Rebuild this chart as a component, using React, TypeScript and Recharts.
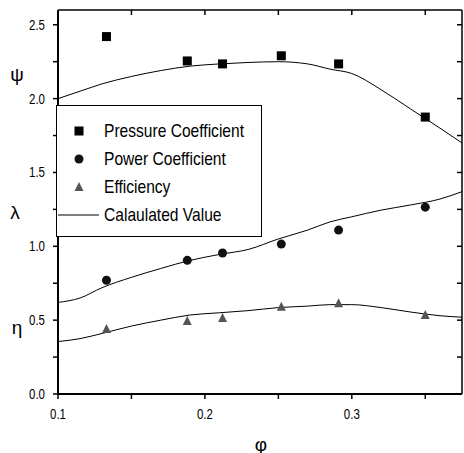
import React from 'react';
import {
  ComposedChart,
  Line,
  Scatter,
  XAxis,
  YAxis,
  Legend,
} from 'recharts';

// measured flow coefficient (phi) of each test point
const phi = [0.133, 0.188, 0.212, 0.252, 0.291, 0.35];
const pressureCoef = [2.42, 2.255, 2.235, 2.29, 2.235, 1.875];
const powerCoef = [0.77, 0.905, 0.955, 1.015, 1.11, 1.265];
const efficiency = [0.44, 0.495, 0.515, 0.59, 0.615, 0.535];

// calculated curves
const calcPhi = [0.1, 0.115, 0.13, 0.15, 0.17, 0.19, 0.21, 0.23, 0.25, 0.27, 0.285, 0.3, 0.32, 0.34, 0.36, 0.375];
const pressureCalc = [2.0, 2.05, 2.1, 2.15, 2.19, 2.22, 2.235, 2.245, 2.25, 2.235, 2.2, 2.17, 2.06, 1.93, 1.8, 1.7];
const powerCalc = [0.62, 0.65, 0.72, 0.79, 0.85, 0.905, 0.945, 0.98, 1.05, 1.11, 1.165, 1.2, 1.245, 1.28, 1.32, 1.37];
const efficiencyCalc = [0.355, 0.375, 0.41, 0.46, 0.5, 0.535, 0.55, 0.565, 0.585, 0.595, 0.605, 0.605, 0.585, 0.555, 0.53, 0.52];

const xTicks = [0.1, 0.15, 0.2, 0.25, 0.3, 0.35];
const yTicks = [0, 0.25, 0.5, 0.75, 1, 1.25, 1.5, 1.75, 2, 2.25, 2.5];

const legendLabels = ['Pressure Coefficient', 'Power Coefficient', 'Efficiency', 'Calaulated Value'];

const FONT = '"Liberation Sans", Arial, sans-serif';
const NARROW = 0.82; // squeeze Arial into an Arial Narrow look
const TICK = 5;
const GAP = 8;

const toPoints = (xs: number[], ys: number[]) => xs.map((x, i) => ({ x, y: ys[i] }));

const isMajor = (v: number) => Math.abs(v * 10 - Math.round(v * 10)) < 1e-6;
const isHalf = (v: number) => Math.abs(v * 2 - Math.round(v * 2)) < 1e-6;

const SquareDot = (props: any) => {
  const { cx, cy } = props;
  return <rect x={cx - 4.5} y={cy - 4.5} width={9} height={9} fill="#000" />;
};

const CircleDot = (props: any) => {
  const { cx, cy } = props;
  return <circle cx={cx} cy={cy} r={4.5} fill="#111" />;
};

const TriangleDot = (props: any) => {
  const { cx, cy } = props;
  return (
    <polygon
      points={`${cx},${cy - 5} ${cx - 4.5},${cy + 4} ${cx + 4.5},${cy + 4}`}
      fill="#555"
    />
  );
};

// tick mark + optional label; x/y arrive as the label anchor, so step back to the axis
const XTick = (props: any) => {
  const { x, y, payload } = props;
  const v = payload.value as number;
  const axisY = y - GAP - TICK;
  return (
    <g>
      <line x1={x} y1={axisY} x2={x} y2={axisY + TICK} stroke="#000" strokeWidth={1.5} />
      {isMajor(v) && (
        <text
          transform={`translate(${x},${y + 2}) scale(${NARROW},1)`}
          textAnchor="middle"
          dy="0.71em"
          fontFamily={FONT}
          fontSize={14}
          fill="#000"
        >
          {v.toFixed(1)}
        </text>
      )}
    </g>
  );
};

const YTick = (props: any) => {
  const { x, y, payload } = props;
  const v = payload.value as number;
  const axisX = x + GAP + TICK;
  return (
    <g>
      <line x1={axisX - TICK} y1={y} x2={axisX} y2={y} stroke="#000" strokeWidth={1.5} />
      {isHalf(v) && (
        <text
          transform={`translate(${x},${y}) scale(${NARROW},1)`}
          textAnchor="end"
          dy="0.355em"
          fontFamily={FONT}
          fontSize={14}
          fill="#000"
        >
          {v.toFixed(1)}
        </text>
      )}
    </g>
  );
};

// frame axes (mirrored, tickMargin 0): the anchor sits at the inner end of the mark
const TopTick = (props: any) => {
  const { x, y } = props;
  return <line x1={x} y1={y - TICK} x2={x} y2={y} stroke="#000" strokeWidth={1.5} />;
};

const RightTick = (props: any) => {
  const { x, y } = props;
  return <line x1={x} y1={y} x2={x + TICK} y2={y} stroke="#000" strokeWidth={1.5} />;
};

function LegendMarker({ index }: { index: number }) {
  return (
    <svg width={44} height={12} style={{ flex: 'none' }}>
      {index === 0 && <rect x={17.5} y={1.5} width={9} height={9} fill="#000" />}
      {index === 1 && <circle cx={22} cy={6} r={4.5} fill="#111" />}
      {index === 2 && <polygon points="22,1 17.5,10 26.5,10" fill="#555" />}
      {index === 3 && <line x1={1} y1={6} x2={42} y2={6} stroke="#000" strokeWidth={1} />}
    </svg>
  );
}

function renderLegend() {
  return (
    <div
      style={{
        width: 206,
        height: 132,
        boxSizing: 'border-box',
        border: '1.5px solid #000',
        background: '#fff',
        paddingTop: 11,
      }}
    >
      {legendLabels.map((label, i) => (
        <div
          key={label}
          style={{ display: 'flex', alignItems: 'center', height: 28, whiteSpace: 'nowrap' }}
        >
          <LegendMarker index={i} />
          <span
            style={{
              display: 'inline-block',
              marginLeft: 3,
              fontFamily: FONT,
              fontSize: 19,
              color: '#000',
              lineHeight: '28px',
              transform: `scaleX(${NARROW})`,
              transformOrigin: 'left center',
            }}
          >
            {label}
          </span>
        </div>
      ))}
    </div>
  );
}

const greekStyle: React.CSSProperties = {
  position: 'absolute',
  fontFamily: FONT,
  fontSize: 19,
  color: '#000',
  lineHeight: 1,
  transform: 'translate(-50%, -50%)',
};

export default function App() {
  const pressureLine = toPoints(calcPhi, pressureCalc);

  return (
    <div style={{ position: 'absolute', left: 0, top: 0, width: 464, height: 453, background: '#fff' }}>
      <ComposedChart
        width={464}
        height={453}
        margin={{ top: 10, right: 2, bottom: 0, left: 0 }}
      >
        <XAxis
          xAxisId="bottom"
          dataKey="x"
          type="number"
          domain={[0.1, 0.375]}
          allowDataOverflow
          ticks={xTicks}
          height={59}
          tickSize={TICK}
          tickMargin={GAP}
          tickLine={false}
          stroke="#000"
          axisLine={{ stroke: '#000', strokeWidth: 2 }}
          tick={XTick}
        />
        <XAxis
          xAxisId="top"
          dataKey="x"
          orientation="top"
          type="number"
          domain={[0.1, 0.375]}
          allowDataOverflow
          ticks={xTicks}
          tick={TopTick}
          height={1}
          mirror
          tickSize={TICK}
          tickMargin={0}
          tickLine={false}
          stroke="#000"
          axisLine={{ stroke: '#000', strokeWidth: 1.5 }}
        />
        <YAxis
          yAxisId="left"
          type="number"
          domain={[0, 2.6]}
          allowDataOverflow
          ticks={yTicks}
          width={58}
          tickSize={TICK}
          tickMargin={GAP}
          tickLine={false}
          stroke="#000"
          axisLine={{ stroke: '#000', strokeWidth: 2 }}
          tick={YTick}
        />
        <YAxis
          yAxisId="right"
          orientation="right"
          type="number"
          domain={[0, 2.6]}
          allowDataOverflow
          ticks={yTicks}
          tick={RightTick}
          width={1}
          mirror
          tickSize={TICK}
          tickMargin={0}
          tickLine={false}
          stroke="#000"
          axisLine={{ stroke: '#000', strokeWidth: 1.5 }}
        />

        {/* invisible series so the top and right frame axes get drawn */}
        <Line
          xAxisId="top"
          yAxisId="right"
          data={pressureLine}
          dataKey="y"
          stroke="none"
          dot={false}
          activeDot={false}
          legendType="none"
          isAnimationActive={false}
        />

        <Line
          xAxisId="bottom"
          yAxisId="left"
          data={pressureLine}
          dataKey="y"
          type="monotone"
          stroke="#000"
          strokeWidth={1}
          dot={false}
          activeDot={false}
          legendType="none"
          isAnimationActive={false}
        />
        <Line
          xAxisId="bottom"
          yAxisId="left"
          data={toPoints(calcPhi, powerCalc)}
          dataKey="y"
          type="monotone"
          stroke="#000"
          strokeWidth={1}
          dot={false}
          activeDot={false}
          legendType="none"
          isAnimationActive={false}
        />
        <Line
          xAxisId="bottom"
          yAxisId="left"
          data={toPoints(calcPhi, efficiencyCalc)}
          dataKey="y"
          type="monotone"
          stroke="#000"
          strokeWidth={1}
          dot={false}
          activeDot={false}
          legendType="none"
          isAnimationActive={false}
        />

        <Scatter
          xAxisId="bottom"
          yAxisId="left"
          name="Pressure Coefficient"
          data={toPoints(phi, pressureCoef)}
          dataKey="y"
          shape={SquareDot}
          isAnimationActive={false}
        />
        <Scatter
          xAxisId="bottom"
          yAxisId="left"
          name="Power Coefficient"
          data={toPoints(phi, powerCoef)}
          dataKey="y"
          shape={CircleDot}
          isAnimationActive={false}
        />
        <Scatter
          xAxisId="bottom"
          yAxisId="left"
          name="Efficiency"
          data={toPoints(phi, efficiency)}
          dataKey="y"
          shape={TriangleDot}
          isAnimationActive={false}
        />

        <Legend
          layout="horizontal"
          verticalAlign="middle"
          align="center"
          content={renderLegend}
          wrapperStyle={{ left: 56, top: 105, width: 206, height: 132 }}
        />
      </ComposedChart>

      <div style={{ ...greekStyle, left: 17, top: 74 }}>ψ</div>
      <div style={{ ...greekStyle, left: 15, top: 212 }}>λ</div>
      <div style={{ ...greekStyle, left: 17, top: 327 }}>η</div>
      <div style={{ ...greekStyle, left: 261, top: 444 }}>φ</div>
    </div>
  );
}
